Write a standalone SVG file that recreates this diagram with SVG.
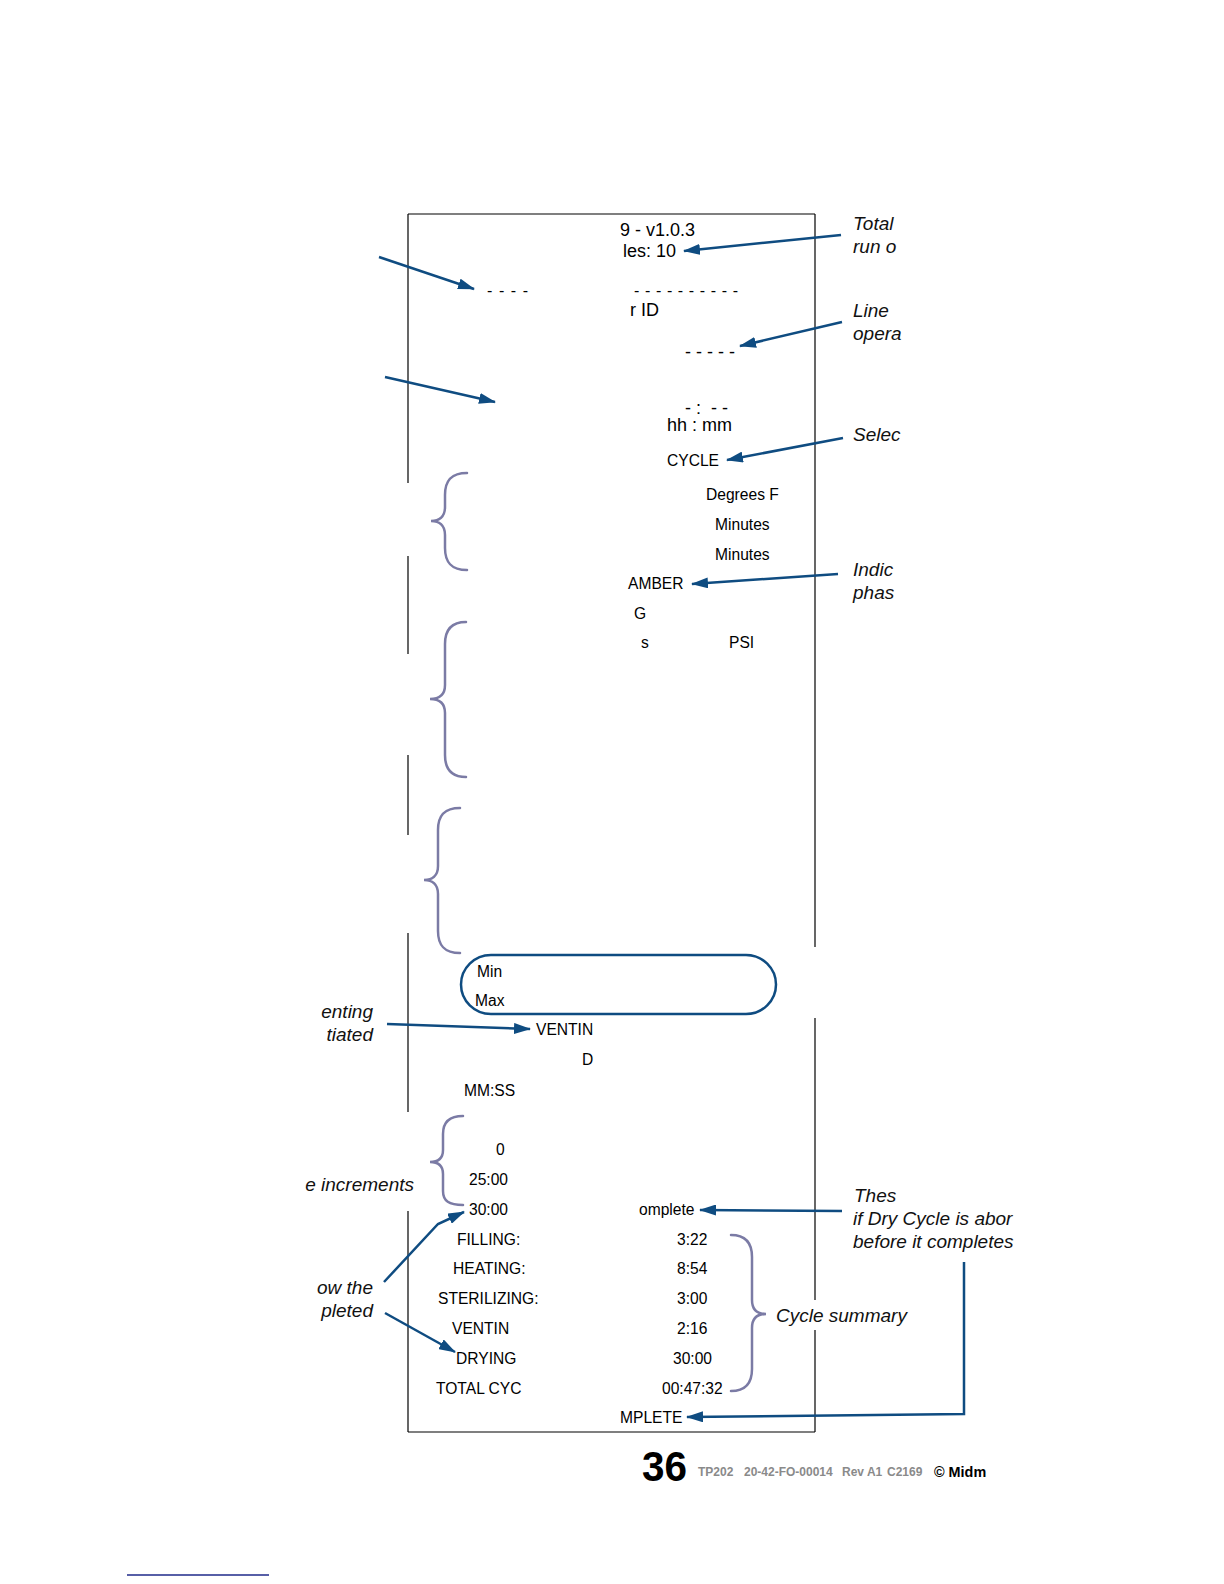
<svg xmlns="http://www.w3.org/2000/svg" width="1224" height="1584" viewBox="0 0 1224 1584">
<style>
text{font-family:"Liberation Sans",Arial,Helvetica,sans-serif;fill:#000}
.t{font-size:15.6px}
.tl{font-size:18px}
.d{font-size:16px}
.c{font-size:19px;font-style:italic;fill:#111}
.e{text-anchor:end}
.ft{font-size:12px;font-weight:bold;fill:#8a8a8a}
.border{stroke:#000;stroke-width:1.2;fill:none}
.arr{stroke:#0f4c81;stroke-width:2.5;fill:none;marker-end:url(#ah)}
.brace{stroke:#7b7ba5;stroke-width:2.5;fill:none;stroke-linecap:round}
</style>
<defs>
<marker id="ah" markerWidth="17" markerHeight="11" refX="16" refY="5.5" orient="auto" markerUnits="userSpaceOnUse">
<path d="M0,0 L17,5.5 L0,11 Z" fill="#0f4c81"/>
</marker>
</defs>
<rect width="1224" height="1584" fill="#fff"/>

<g id="printout-border">
<line class="border" x1="408" y1="214" x2="815" y2="214"/>
<line class="border" x1="408" y1="1432" x2="815" y2="1432"/>
<line class="border" x1="408" y1="214" x2="408" y2="483"/>
<line class="border" x1="408" y1="556" x2="408" y2="654"/>
<line class="border" x1="408" y1="755" x2="408" y2="835"/>
<line class="border" x1="408" y1="933" x2="408" y2="1112"/>
<line class="border" x1="408" y1="1211" x2="408" y2="1432"/>
<line class="border" x1="815" y1="214" x2="815" y2="947"/>
<line class="border" x1="815" y1="1018" x2="815" y2="1300"/>
<line class="border" x1="815" y1="1330" x2="815" y2="1432"/>
</g>

<g id="header-lines">
<text class="tl" x="620" y="236">9 - v1.0.3</text>
<text class="tl" x="623" y="257">les: 10</text>
</g>
<g id="id-lines">
<text class="d" x="487" y="296" textLength="41" lengthAdjust="spacing">- - - -</text>
<text class="d" x="634" y="296" textLength="104" lengthAdjust="spacing">- - - - - - - - - -</text>
<text class="tl" x="630" y="316">r ID</text>
<text class="tl" x="685" y="358">- - - - -</text>
</g>
<g id="time-lines">
<text class="tl" x="685" y="414" xml:space="preserve">- :  - -</text>
<text class="tl" x="667" y="431">hh : mm</text>
</g>
<g id="cycle-params">
<text class="t" x="667" y="466">CYCLE</text>
<text class="t" x="706" y="500">Degrees F</text>
<text class="t" x="715" y="530">Minutes</text>
<text class="t" x="715" y="560">Minutes</text>
<text class="t" x="628" y="589">AMBER</text>
<text class="t" x="634" y="619">G</text>
<text class="t" x="641" y="648">s</text>
<text class="t" x="729" y="648">PSI</text>
</g>
<g id="minmax-box">
<rect x="461" y="955" width="315" height="59" rx="30" ry="30" fill="none" stroke="#0f4c81" stroke-width="2.5"/>
<text class="t" x="477" y="977">Min</text>
<text class="t" x="475" y="1006">Max</text>
</g>
<g id="venting-lines">
<text class="t" x="536" y="1035">VENTIN</text>
<text class="t" x="582" y="1065">D</text>
<text class="t" x="464" y="1096">MM:SS</text>
</g>
<g id="drying-lines">
<text class="t" x="496" y="1155">0</text>
<text class="t" x="469" y="1185">25:00</text>
<text class="t" x="469" y="1215">30:00</text>
<text class="t" x="639" y="1215">omplete</text>
</g>
<g id="cycle-summary">
<text class="t" x="457" y="1245">FILLING:</text>
<text class="t" x="677" y="1245">3:22</text>
<text class="t" x="453" y="1274">HEATING:</text>
<text class="t" x="677" y="1274">8:54</text>
<text class="t" x="438" y="1304">STERILIZING:</text>
<text class="t" x="677" y="1304">3:00</text>
<text class="t" x="452" y="1334">VENTIN</text>
<text class="t" x="677" y="1334">2:16</text>
<text class="t" x="456" y="1364">DRYING</text>
<text class="t" x="673" y="1364">30:00</text>
<text class="t" x="436" y="1394">TOTAL CYC</text>
<text class="t" x="662" y="1394">00:47:32</text>
<text class="t" x="620" y="1423">MPLETE</text>
</g>

<g id="braces">
<path class="brace" d="M467,473 C451,473 445,481 445,495 L445,507 C445,517 439,521 431,521 C439,521 445,525 445,535 L445,548 C445,562 451,570 467,570"/>
<path class="brace" d="M466,622 C451,622 445,630 445,644 L445,685 C445,695 439,699 430,699 C439,699 445,703 445,713 L445,755 C445,769 451,777 466,777"/>
<path class="brace" d="M460,808 C444,808 438,816 438,830 L438,866 C438,876 432,880 424,880 C432,880 438,884 438,894 L438,931 C438,945 444,953 460,953"/>
<path class="brace" d="M463,1116 C449,1116 443,1122 443,1134 L443,1150 C443,1158 438,1162 430,1162 C438,1162 443,1166 443,1174 L443,1191 C443,1201 449,1205 463,1205"/>
<path class="brace" d="M731,1235 C746,1235 752,1243 752,1257 L752,1300 C752,1310 757,1314 766,1314 C757,1314 752,1318 752,1328 L752,1369 C752,1383 746,1391 731,1391"/>
</g>

<g id="callout-total"><text class="c" x="853" y="230">Total</text><text class="c" x="853" y="253">run o</text></g>
<g id="callout-line"><text class="c" x="853" y="317">Line</text><text class="c" x="853" y="340">opera</text></g>
<g id="callout-selec"><text class="c" x="853" y="441">Selec</text></g>
<g id="callout-indic"><text class="c" x="853" y="576">Indic</text><text class="c" x="853" y="599">phas</text></g>
<g id="callout-venting"><text class="c e" x="373" y="1018">enting</text><text class="c e" x="373" y="1041">tiated</text></g>
<g id="callout-increments"><text class="c e" x="414" y="1191">e increments</text></g>
<g id="callout-completed"><text class="c e" x="373" y="1294">ow the</text><text class="c e" x="373" y="1317">pleted</text></g>
<g id="callout-thes"><text class="c" x="854" y="1202">Thes</text><text class="c" x="853" y="1225">if Dry Cycle is abor</text><text class="c" x="853" y="1248">before it completes</text></g>
<g id="callout-summary"><text class="c" x="776" y="1322">Cycle summary</text></g>

<g id="connectors">
<line class="arr" x1="841" y1="235" x2="684" y2="251"/>
<line class="arr" x1="379" y1="257" x2="474" y2="289"/>
<line class="arr" x1="842" y1="322" x2="740" y2="346"/>
<line class="arr" x1="385" y1="377" x2="495" y2="402"/>
<line class="arr" x1="843" y1="438" x2="727" y2="460"/>
<line class="arr" x1="838" y1="574" x2="692" y2="584"/>
<line class="arr" x1="387" y1="1024" x2="530" y2="1029"/>
<line class="arr" x1="842" y1="1211" x2="700" y2="1210"/>
<polyline class="arr" points="384,1282 438,1224 464,1212"/>
<line class="arr" x1="385" y1="1313" x2="455" y2="1352"/>
<polyline class="arr" points="964,1262 964,1414 687,1417"/>
</g>

<g id="footer">
<text x="642" y="1481" font-size="42" font-weight="bold" textLength="45" lengthAdjust="spacingAndGlyphs">36</text>
<text class="ft" x="698" y="1476">TP202</text>
<text class="ft" x="744" y="1476">20-42-FO-00014</text>
<text class="ft" x="842" y="1476">Rev A1</text>
<text class="ft" x="887" y="1476">C2169</text>
<text x="934" y="1477" font-size="14.4" font-weight="bold">© Midm</text>
<line x1="127" y1="1575" x2="269" y2="1575" stroke="#1f2a8a" stroke-width="1.5"/>
</g>
</svg>
